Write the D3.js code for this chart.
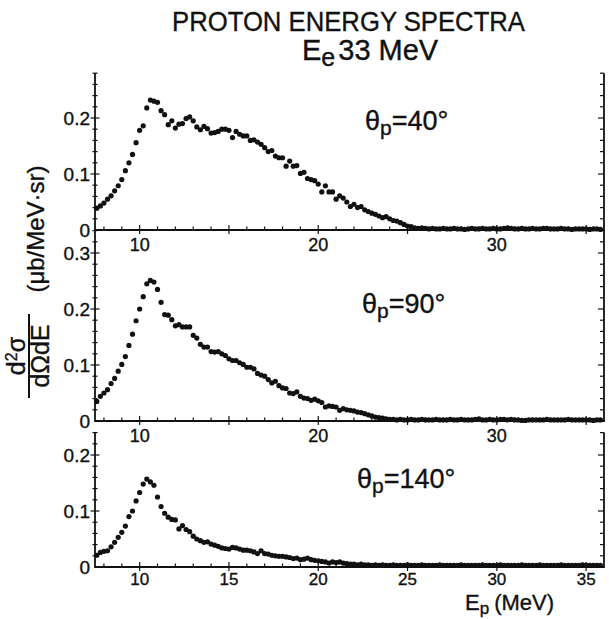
<!DOCTYPE html>
<head>
  <meta charset="utf-8" />
  <script src="https://d3js.org/d3.v7.min.js"></script>
  <style>
    body { margin: 0; background: white; }
    text { font-family: "Liberation Sans", "DejaVu Sans", sans-serif; fill: #111; stroke: #111; stroke-width: 0.35px; }
  </style>
</head>
<body>
<script>
// proton energy (MeV), one point every 0.2 MeV
var energy = [
  7.6, 7.8, 8.0, 8.2, 8.4, 8.6, 8.8, 9.0, 9.2, 9.4,
  9.6, 9.8, 10.0, 10.2, 10.4, 10.6, 10.8, 11.0, 11.2, 11.4,
  11.6, 11.8, 12.0, 12.2, 12.4, 12.6, 12.8, 13.0, 13.2, 13.4,
  13.6, 13.8, 14.0, 14.2, 14.4, 14.6, 14.8, 15.0, 15.2, 15.4,
  15.6, 15.8, 16.0, 16.2, 16.4, 16.6, 16.8, 17.0, 17.2, 17.4,
  17.6, 17.8, 18.0, 18.2, 18.4, 18.6, 18.8, 19.0, 19.2, 19.4,
  19.6, 19.8, 20.0, 20.2, 20.4, 20.6, 20.8, 21.0, 21.2, 21.4,
  21.6, 21.8, 22.0, 22.2, 22.4, 22.6, 22.8, 23.0, 23.2, 23.4,
  23.6, 23.8, 24.0, 24.2, 24.4, 24.6, 24.8, 25.0, 25.2, 25.4,
  25.6, 25.8, 26.0, 26.2, 26.4, 26.6, 26.8, 27.0, 27.2, 27.4,
  27.6, 27.8, 28.0, 28.2, 28.4, 28.6, 28.8, 29.0, 29.2, 29.4,
  29.6, 29.8, 30.0, 30.2, 30.4, 30.6, 30.8, 31.0, 31.2, 31.4,
  31.6, 31.8, 32.0, 32.2, 32.4, 32.6, 32.8, 33.0, 33.2, 33.4,
  33.6, 33.8, 34.0, 34.2, 34.4, 34.6, 34.8, 35.0, 35.2, 35.4,
  35.6, 35.8
];

// d2sigma/dOmega dE (ub/MeV.sr)
var theta40 = [
  0.039,0.043,0.048,0.055,0.061,0.070,0.079,0.090,0.106,0.120,
  0.135,0.156,0.178,0.186,0.218,0.232,0.230,0.228,0.213,0.206,
  0.188,0.195,0.182,0.189,0.190,0.199,0.202,0.195,0.184,0.179,
  0.185,0.181,0.173,0.174,0.176,0.180,0.180,0.178,0.165,0.176,
  0.171,0.168,0.168,0.160,0.161,0.157,0.153,0.147,0.140,0.142,
  0.132,0.129,0.129,0.114,0.123,0.114,0.115,0.101,0.103,0.092,
  0.090,0.088,0.082,0.068,0.079,0.068,0.068,0.055,0.061,0.057,
  0.050,0.042,0.046,0.040,0.042,0.036,0.033,0.030,0.028,0.025,
  0.022,0.024,0.020,0.017,0.016,0.013,0.010,0.007,0.006,0.004,
  0.003,0.004,0.003,0.002,0.003,0.002,0.002,0.003,0.002,0.002,
  0.003,0.002,0.002,0.001,0.002,0.003,0.002,0.002,0.003,0.002,
  0.002,0.003,0.002,0.002,0.003,0.004,0.003,0.002,0.002,0.003,
  0.002,0.002,0.003,0.002,0.002,0.003,0.003,0.002,0.002,0.002,
  0.003,0.002,0.002,0.001,0.002,0.002,0.002,0.002,0.001,0.002,
  0.002,0.001
];
var theta90 = [
  0.035,0.044,0.050,0.056,0.067,0.076,0.089,0.101,0.115,0.135,
  0.155,0.179,0.200,0.222,0.245,0.251,0.248,0.235,0.212,0.190,
  0.189,0.181,0.170,0.172,0.168,0.168,0.168,0.153,0.148,0.137,
  0.132,0.132,0.124,0.123,0.124,0.120,0.117,0.111,0.108,0.108,
  0.104,0.101,0.096,0.096,0.093,0.085,0.082,0.080,0.074,0.068,
  0.071,0.063,0.059,0.058,0.050,0.049,0.052,0.044,0.041,0.040,
  0.037,0.039,0.036,0.033,0.025,0.027,0.026,0.025,0.019,0.022,
  0.020,0.019,0.018,0.016,0.015,0.013,0.011,0.009,0.007,0.006,
  0.005,0.004,0.003,0.003,0.002,0.003,0.002,0.002,0.003,0.002,
  0.002,0.003,0.002,0.002,0.002,0.003,0.002,0.002,0.002,0.003,
  0.002,0.002,0.003,0.002,0.002,0.002,0.003,0.004,0.002,0.002,
  0.003,0.002,0.002,0.003,0.003,0.002,0.003,0.002,0.002,0.001,
  0.001,0.002,0.002,0.002,0.002,0.002,0.003,0.002,0.002,0.002,
  0.002,0.002,0.003,0.002,0.002,0.002,0.002,0.002,0.002,0.001,
  0.002,0.002
];
var theta140 = [
  0.021,0.026,0.028,0.029,0.036,0.044,0.053,0.062,0.073,0.090,
  0.100,0.118,0.133,0.148,0.157,0.152,0.146,0.125,0.108,0.096,
  0.089,0.085,0.084,0.068,0.074,0.067,0.063,0.055,0.050,0.047,
  0.044,0.045,0.041,0.039,0.037,0.034,0.033,0.032,0.035,0.034,
  0.032,0.030,0.030,0.029,0.027,0.024,0.029,0.024,0.023,0.021,
  0.020,0.019,0.019,0.018,0.017,0.015,0.016,0.013,0.014,0.016,
  0.013,0.012,0.011,0.010,0.009,0.007,0.009,0.008,0.009,0.007,
  0.006,0.005,0.005,0.004,0.005,0.004,0.004,0.003,0.004,0.003,
  0.004,0.003,0.003,0.004,0.003,0.003,0.003,0.004,0.003,0.003,
  0.003,0.004,0.003,0.003,0.003,0.003,0.004,0.003,0.003,0.003,
  0.003,0.003,0.004,0.003,0.003,0.003,0.003,0.003,0.004,0.003,
  0.003,0.003,0.003,0.004,0.003,0.003,0.003,0.003,0.003,0.004,
  0.003,0.003,0.003,0.003,0.004,0.003,0.003,0.003,0.003,0.003,
  0.004,0.003,0.003,0.003,0.003,0.003,0.004,0.003,0.003,0.003,
  0.003,0.003
];

var angleLabels = ["40", "90", "140"];
var yMaxes = [0.28, 0.34, 0.24];
var yLabelTicks = [[0, 0.1, 0.2], [0, 0.1, 0.2, 0.3], [0, 0.1, 0.2]];
var xLabelTicksInner = [10, 20, 30];
var xLabelTicksBottom = [10, 15, 20, 25, 30, 35];

var width = 609, height = 619;
var svg = d3.select("body").append("svg")
  .attr("width", width).attr("height", height);
svg.append("rect").attr("width", width).attr("height", height).attr("fill", "white");

var x = d3.scaleLinear().domain([7.5, 36]).range([95, 604]);
var pxPerUnit = 560; // pixels per 1.0 on y axes
var zeros = [230, 421, 567];
var labelPos = [[365, 130], [362, 313], [357, 488]];
var series = [theta40, theta90, theta140];

// title
svg.append("text").attr("x", 172).attr("y", 31)
  .attr("textLength", 353).attr("lengthAdjust", "spacingAndGlyphs")
  .style("font-size", "28px").text("PROTON ENERGY SPECTRA");
var sub = svg.append("text").attr("x", 302).attr("y", 60).style("font-size", "29px");
sub.append("tspan").text("E");
sub.append("tspan").attr("dy", 6).style("font-size", "25px").text("e");
sub.append("tspan").attr("dy", -6).attr("dx", 3).text("33 MeV");

series.forEach(function (vals, i) {
  var y0 = zeros[i];
  var y = d3.scaleLinear().domain([0, yMaxes[i]]).range([y0, y0 - yMaxes[i] * pxPerUnit]);
  var g = svg.append("g");
  var top = y(yMaxes[i]);

  // frame: left, bottom, right
  g.append("path")
    .attr("d", "M" + x(7.5) + "," + top + "V" + y0 + "H" + x(36) + "V" + top)
    .attr("fill", "none").attr("stroke", "#111").attr("stroke-width", 1.8);

  // y ticks every 0.02
  var yt = d3.range(0, yMaxes[i] + 1e-9, 0.02).filter(function (v) { return v > 0; });
  yt.forEach(function (v) {
    var major = Math.abs(v * 10 - Math.round(v * 10)) < 1e-6;
    var len = major ? 4.5 : 2.5;
    g.append("line").attr("x1", x(7.5) - len).attr("x2", x(7.5) + len)
      .attr("y1", y(v)).attr("y2", y(v)).attr("stroke", "#111").attr("stroke-width", 1.2);
    g.append("line").attr("x1", x(36) - (major ? 6 : 4)).attr("x2", x(36))
      .attr("y1", y(v)).attr("y2", y(v)).attr("stroke", "#111").attr("stroke-width", 1.2);
  });
  yLabelTicks[i].forEach(function (v) {
    g.append("text").attr("x", 90).attr("y", y(v)).attr("dy", "0.36em")
      .attr("text-anchor", "end").style("font-size", "19px")
      .text(v === 0 ? "0" : d3.format(".1f")(v));
  });

  // x ticks every 1 MeV
  d3.range(8, 36, 1).forEach(function (e) {
    var major = e % 5 === 0;
    g.append("line").attr("x1", x(e)).attr("x2", x(e))
      .attr("y1", y0 - (major ? 5 : 3.5)).attr("y2", y0 + (major ? 4 : 1))
      .attr("stroke", "#111").attr("stroke-width", 1.2);
  });
  var xl = i === 2 ? xLabelTicksBottom : xLabelTicksInner;
  xl.forEach(function (e) {
    g.append("text").attr("x", x(e)).attr("y", y0 + (i === 2 ? 18 : 21))
      .attr("text-anchor", "middle").style("font-size", i === 2 ? "17px" : "18px").text(e);
  });

  // points
  g.selectAll("circle").data(vals).join("circle")
    .attr("cx", function (d, k) { return x(energy[k]); })
    .attr("cy", function (d) { return y(d); })
    .attr("r", 2.6).attr("fill", "#111");

  // angle label
  var t = g.append("text").attr("x", labelPos[i][0]).attr("y", labelPos[i][1])
    .style("font-size", "27px");
  t.append("tspan").text("θ");
  t.append("tspan").attr("dy", 5).style("font-size", "21px").text("p");
  t.append("tspan").attr("dy", -5).text("=" + angleLabels[i] + "°");
});

// x axis title
var xt = svg.append("text").attr("x", 465).attr("y", 610).style("font-size", "22px");
xt.append("tspan").text("E");
xt.append("tspan").attr("dy", 4).style("font-size", "17px").text("p");
xt.append("tspan").attr("dy", -4).attr("dx", 5).text("(MeV)");

// y axis title (rotated)
var yg = svg.append("g");
yg.append("text").attr("transform", "translate(44,229) rotate(-90)")
  .attr("text-anchor", "middle").style("font-size", "24px").text("(μb/MeV·sr)");
yg.append("line").attr("x1", 29).attr("x2", 29).attr("y1", 314).attr("y2", 398)
  .attr("stroke", "#111").attr("stroke-width", 2);
var num = yg.append("text").attr("transform", "translate(25,356) rotate(-90)")
  .attr("text-anchor", "middle").style("font-size", "25px");
num.append("tspan").text("d");
num.append("tspan").attr("dy", -8).style("font-size", "16px").text("2");
num.append("tspan").attr("dy", 8).text("σ");
yg.append("text").attr("transform", "translate(49,356) rotate(-90)")
  .attr("text-anchor", "middle").style("font-size", "25px").text("dΩdE");
</script>
</body>
